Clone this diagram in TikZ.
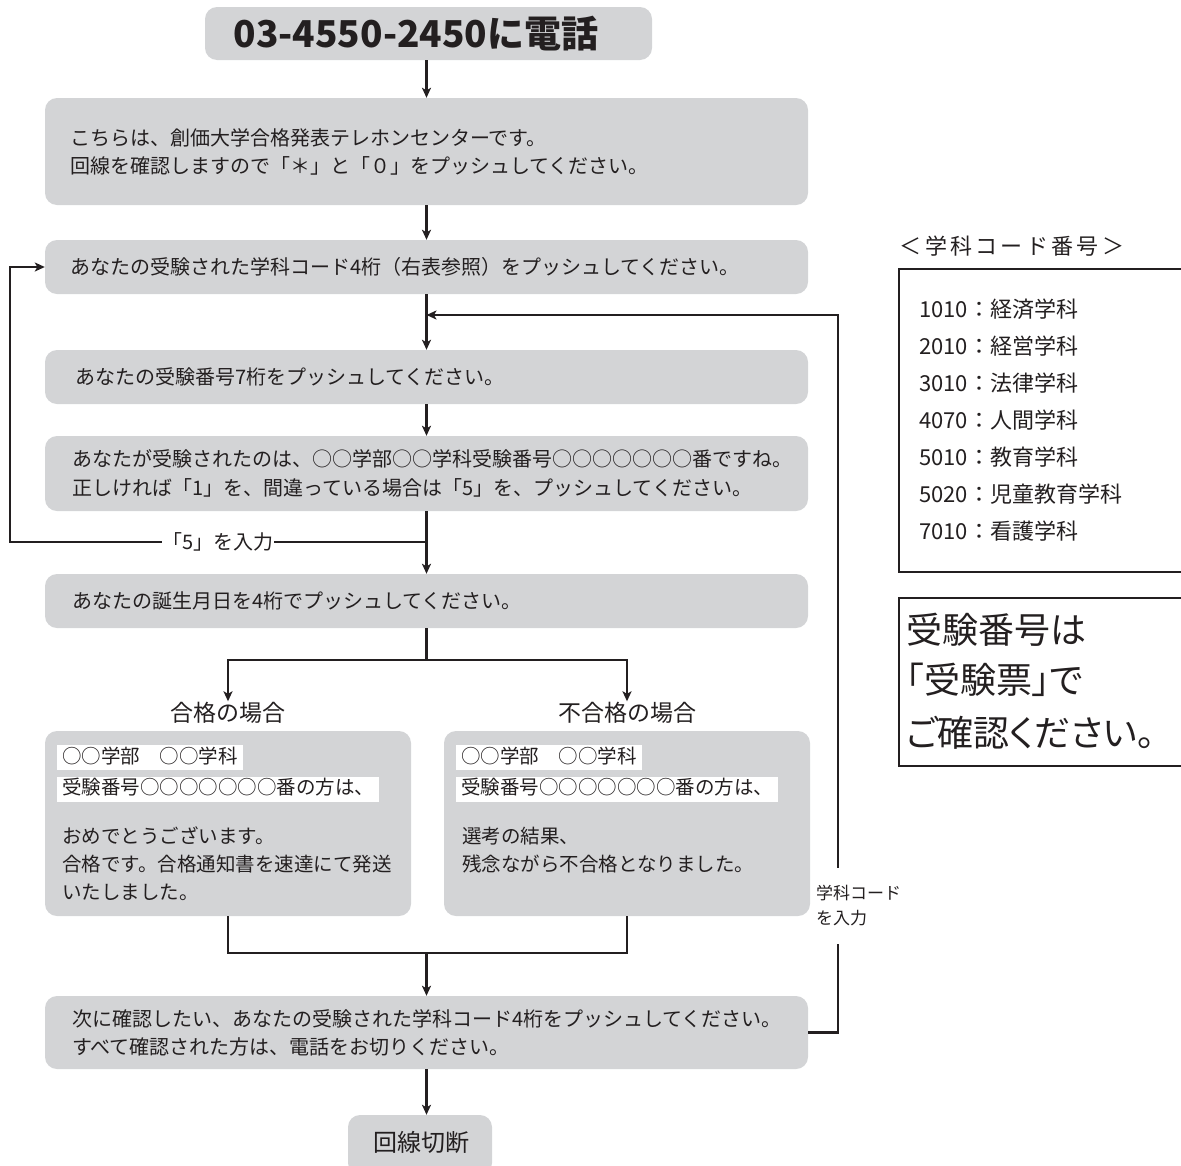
\documentclass[tikz,border=0pt]{standalone}
\usepackage{fontspec}
\setmainfont{Noto Sans CJK JP}
\usetikzlibrary{arrows.meta}
\definecolor{boxgray}{RGB}{211,212,214}
\definecolor{ink}{RGB}{35,31,32}
\begin{document}
\begin{tikzpicture}[x=1pt,y=-1pt,
  every node/.style={text=ink},
  box/.style={fill=boxgray, rounded corners=12pt, inner sep=0pt},
  mbox/.style={box, align=left, font=\fontsize{20}{28}\selectfont, minimum height=#1},
  line/.style={draw=ink, line width=2.2pt},
  arr/.style={line, -{Stealth[length=10pt,width=9pt,inset=2.5pt]}},
  wlbl/.style={fill=white, inner xsep=5pt, inner ysep=3pt, text height=15pt, text depth=4pt, anchor=west, font=\fontsize{19.5}{24}\selectfont},
  rtxt/.style={anchor=west, inner sep=0pt, text height=17pt, text depth=2.5pt, font=\fontsize{19.5}{24}\selectfont},
  caselbl/.style={font=\fontsize{23}{23}\selectfont, inner sep=0pt, text height=20pt, text depth=3pt},
  tentry/.style={anchor=west, inner sep=0pt, font=\fontsize{22}{22}\selectfont},
  notetxt/.style={anchor=west, inner sep=0pt, font=\fontsize{36}{36}\selectfont\addfontfeature{RawFeature=+palt}},
  frame/.style={draw=ink, line width=2.2pt, anchor=north west, inner sep=0pt, minimum width=292pt}
]
\useasboundingbox (0,0) rectangle (1181,1165);

% main flow boxes
\node[box, minimum width=447pt, minimum height=53pt] (title) at (428.5,33.5) {};
\node[font=\fontsize{37}{37}\selectfont\bfseries, inner sep=0pt] (titletxt) at (416,34) {03-4550-2450に電話};

\node[mbox=107pt, text width=713pt, inner xsep=25pt] (intro) at (426.5,151.5)
  {こちらは、創価大学合格発表テレホンセンターです。\\回線を確認しますので「＊」と「０」をプッシュしてください。};
\node[mbox=54pt, text width=713pt, inner xsep=25pt] (code) at (426.5,267)
  {あなたの受験された学科コード4桁（右表参照）をプッシュしてください。};
\node[mbox=54pt, text width=703pt, inner xsep=30pt] (num) at (426.5,377)
  {あなたの受験番号7桁をプッシュしてください。};
\node[mbox=75pt, text width=709pt, inner xsep=27pt, font=\fontsize{20}{29}\selectfont] (conf) at (426.5,473.5)
  {あなたが受験されたのは、○○学部○○学科受験番号○○○○○○○番ですね。\\正しければ「1」を、間違っている場合は「5」を、プッシュしてください。};
\node[mbox=54pt, text width=709pt, inner xsep=27pt] (birth) at (426.5,601)
  {あなたの誕生月日を4桁でプッシュしてください。};

% result boxes
\node[box, minimum width=366pt, minimum height=185pt] (ok) at (228,823.5) {};
\node[box, minimum width=366pt, minimum height=185pt] (ng) at (627,823.5) {};
\node[caselbl] (okl) at (228,713) {合格の場合};
\node[caselbl] (ngl) at (627,713) {不合格の場合};

\node[wlbl] (okw1) at (57,757.5) {○○学部　○○学科};
\node[wlbl] (okw2) at (57,789) {受験番号○○○○○○○番の方は、};
\node[rtxt] (okt1) at (62,836) {おめでとうございます。};
\node[rtxt] (okt2) at (62,864) {合格です。合格通知書を速達にて発送};
\node[rtxt] (okt3) at (62,892) {いたしました。};

\node[wlbl] (ngw1) at (456,757.5) {○○学部　○○学科};
\node[wlbl] (ngw2) at (456,789) {受験番号○○○○○○○番の方は、};
\node[rtxt] (ngt1) at (462,836) {選考の結果、};
\node[rtxt] (ngt2) at (462,864) {残念ながら不合格となりました。};

\node[mbox=73pt, text width=709pt, inner xsep=27pt] (next) at (426.5,1032.5)
  {次に確認したい、あなたの受験された学科コード4桁をプッシュしてください。\\すべて確認された方は、電話をお切りください。};
\node[box, minimum width=144pt, minimum height=60pt] (end) at (420,1145) {};
\node[font=\fontsize{24}{24}\selectfont, inner sep=0pt] (endtxt) at (421,1142) {回線切断};

% coordinates for bends
\coordinate (j5) at (426.5,542);
\coordinate (lc) at (10,542);
\coordinate (j3) at (426.5,315);
\coordinate (rt) at (838,315);
\coordinate (fork) at (426.5,660);
\coordinate (mrg) at (426.5,953);

% connectors
\draw[arr] (title.south -| intro.north) -- (intro.north);
\draw[arr] (intro.south) -- (code.north);
\draw[arr] (code.south) -- (num.north);
\draw[arr] (num.south) -- (conf.north);
\draw[arr] (conf.south) -- (birth.north);
\draw[arr] (j5) -- (lc) |- (code.west);
\node[font=\fontsize{20}{20}\selectfont, fill=white, inner xsep=0pt, inner ysep=2pt] (in5) at (218,542) {「5」を入力};
\draw[arr] (birth.south) -- (fork) -| (okl.north);
\draw[arr] (fork) -| (ngl.north);
\draw[line] (ok.south) -- (ok.south |- mrg) -- (ng.south |- mrg) -- (ng.south);
\draw[arr] (mrg) -- (next.north);
\draw[arr] (next.south) -- (next.south |- end.north);
\draw[arr] (next.east) -| (rt) -- (j3);
\node[font=\fontsize{17}{25}\selectfont, align=left, fill=white, anchor=west, inner xsep=1pt, inner ysep=18pt] (kin) at (815,906) {学科コード\\を入力};

% right side
\node[font=\fontsize{22}{22}\selectfont\addfontfeature{LetterSpace=15}, inner sep=0pt] (tblt) at (1012,246) {＜学科コード番号＞};
\node[frame, minimum height=303pt] (tbl) at (898,268) {};
\node[tentry] (e1) at (919,309) {1010：経済学科};
\node[tentry] (e2) at (919,346) {2010：経営学科};
\node[tentry] (e3) at (919,383) {3010：法律学科};
\node[tentry] (e4) at (919,420) {4070：人間学科};
\node[tentry] (e5) at (919,457) {5010：教育学科};
\node[tentry] (e6) at (919,494) {5020：児童教育学科};
\node[tentry] (e7) at (919,531) {7010：看護学科};

\node[frame, minimum height=168pt] (note) at (898,597) {};
\node[notetxt] (n1) at (906,630) {受験番号は};
\node[notetxt] (n2) at (906,680) {「受験票」で};
\node[notetxt] (n3) at (906,733) {ご確認ください。};
\end{tikzpicture}
\end{document}
